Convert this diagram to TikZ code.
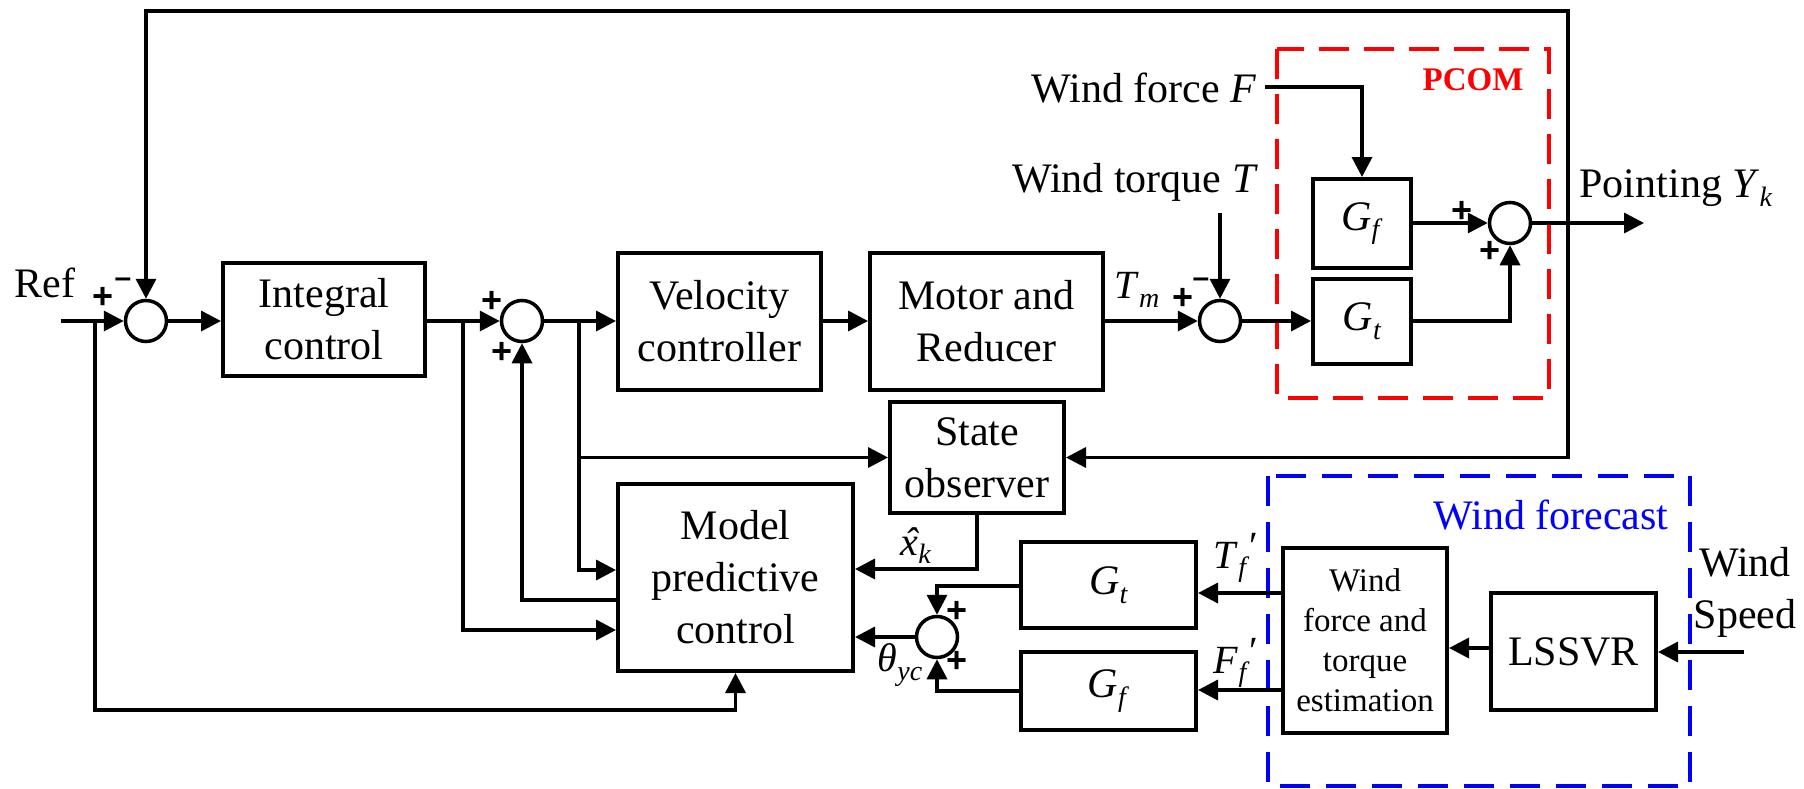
\documentclass[tikz,border=0pt]{standalone}
\usepackage{fontspec}
\setmainfont{Liberation Serif}
\newfontfamily\signfont{Liberation Sans}
\usetikzlibrary{arrows.meta}
\newcommand{\isub}[2]{\textit{#1}\raisebox{-0.45ex}{\fontsize{28}{28}\selectfont\textit{#2}}}
\newcommand{\xhat}{\ooalign{\textit{x}\cr\hidewidth\hspace{0.12em}\textit{ˆ}\hidewidth\cr}}
\tikzset{
  blk/.style={draw, line width=4pt, align=center, inner sep=0pt, font=\fontsize{42}{52}\selectfont},
  sumc/.style={draw, circle, line width=3.5pt, minimum size=41pt, inner sep=0pt},
  conn/.style={line width=3.5pt, -{Triangle[length=20pt,width=20pt]}},
  ln/.style={line width=3.5pt},
  lbl/.style={inner sep=0pt, align=center, font=\fontsize{42}{52}\selectfont},
  sgn/.style={inner sep=0pt, font=\signfont\bfseries\fontsize{36}{36}\selectfont},
  msgn/.style={inner sep=0pt, font=\signfont\bfseries\fontsize{30}{30}\selectfont},
  redbox/.style={draw=red, line width=4pt, dash pattern=on 30pt off 15pt},
  bluebox/.style={draw=blue, line width=4pt, dash pattern=on 30pt off 16pt},
}
\begin{document}
\begin{tikzpicture}[x=1pt,y=-1pt]
\useasboundingbox (0,0) rectangle (1804,789);
% dashed groups
\draw[redbox] (1277,49) rectangle (1549,398);
\draw[bluebox] (1268,476) rectangle (1690,786);
\node[inner sep=0pt, text=red, font=\bfseries\fontsize{33}{33}\selectfont] (pcom) at (1473,80) {PCOM};
\node[lbl, text=blue] (wfc) at (1551,515) {Wind forecast};

% blocks
\node[blk, minimum width=202pt, minimum height=113pt] (ic) at (324,319) {Integral\\control};
\node[blk, minimum width=203pt, minimum height=137pt] (vc) at (719.5,321) {Velocity\\controller};
\node[blk, minimum width=233pt, minimum height=137pt] (mr) at (986.5,321) {Motor and\\Reducer};
\node[blk, minimum width=174pt, minimum height=111pt] (so) at (977,457.5) {State\\observer};
\node[blk, minimum width=235pt, minimum height=187pt] (mpc) at (735.5,577.5) {Model\\predictive\\control};
\node[blk, minimum width=98pt, minimum height=89pt] (gf) at (1362,223.5) {\isub{G}{f}};
\node[blk, minimum width=98pt, minimum height=85pt] (gt) at (1362,321) {\isub{G}{t}};
\node[blk, minimum width=175pt, minimum height=86pt] (gt2) at (1108.5,585) {\isub{G}{t}};
\node[blk, minimum width=175pt, minimum height=78pt] (gf2) at (1108.5,691) {\isub{G}{f}};
\node[blk, minimum width=164pt, minimum height=185pt, font=\fontsize{33}{40}\selectfont] (est) at (1365,640.5) {Wind\\force and\\torque\\estimation};
\node[blk, minimum width=165pt, minimum height=117pt] (ls) at (1573.5,651.5) {LSSVR};

% summing junctions
\node[sumc] (s1) at (146,321) {};
\node[sumc] (s2) at (522,321) {};
\node[sumc] (s3) at (1220,321) {};
\node[sumc] (s4) at (1510,223) {};
\node[sumc] (s5) at (937,637) {};

% signs
\node[sgn] (p1) at (103,298) {+};
\node[msgn] (m1) at (123,283) {–};
\node[sgn] (p2) at (492,302) {+};
\node[sgn] (p3) at (502,353) {+};
\node[sgn] (p4) at (1183,299) {+};
\node[msgn] (m2) at (1201,283) {–};
\node[sgn] (p5) at (1462,212) {+};
\node[sgn] (p6) at (1490,252) {+};
\node[sgn] (p7) at (957,612) {+};
\node[sgn] (p8) at (957,662) {+};

% labels
\node[lbl] (ref) at (45,283) {Ref};
\node[lbl] (wfl) at (1144,88) {Wind force \textit{F}};
\node[lbl] (wtl) at (1135,182) {Wind torque \textit{T}};
\node[lbl] (pyl) at (1676,188) {Pointing \isub{Y}{k}};
\node[lbl] (wsl) at (1745,592) {Wind\\Speed};
\node[lbl, font=\fontsize{40}{48}\selectfont] (tml) at (1137,290) {\isub{T}{m}};
\node[lbl, font=\fontsize{40}{48}\selectfont] (xkl) at (916,550) {\xhat\raisebox{-0.45ex}{\fontsize{28}{28}\selectfont\textit{k}}};
\node[lbl, font=\fontsize{40}{48}\selectfont] (tfl) at (1236,558) {\isub{T}{f}\raisebox{0.5ex}{′}};
\node[lbl, font=\fontsize{40}{48}\selectfont] (ffl) at (1236,663) {\isub{F}{f}\raisebox{0.5ex}{′}};
\node[lbl, font=\fontsize{40}{48}\selectfont] (thl) at (900,665) {\isub{θ}{yc}};

% coordinates
\coordinate (refin) at (61,321);
\coordinate (b1) at (95,321);
\coordinate (b2) at (463,321);
\coordinate (b3) at (579,321);
\coordinate (fb) at (1568,223);
\coordinate (tl) at (146,11);
\coordinate (yout) at (1644,223);
\coordinate (wf) at (1265,87);
\coordinate (wt) at (1220,213);
\coordinate (wsin) at (1744,652);

% connectors - main loop
\draw[conn] (refin) -- (s1.west);
\draw[conn] (s1.east) -- (s1.east -| ic.west);
\draw[conn] (ic.east |- s2.west) -- (s2.west);
\draw[conn] (s2.east) -- (s2.east -| vc.west);
\draw[conn] (vc.east) -- (mr.west);
\draw[conn] (mr.east |- s3.west) -- (s3.west);
\draw[conn] (s3.east) -- (gt.west);
\draw[conn] (gf.east |- s4.west) -- (s4.west);
\draw[conn] (gt.east) -| (s4.south);
\draw[conn] (s4.east) -- (yout);
\draw[conn] (fb) |- (tl) -- (s1.north);
\draw[conn] (fb) |- (so.east);
\draw[conn] (wf) -| (gf.north);
\draw[conn] (wt) -- (s3.north);

% MPC and observer
\draw[conn] (b3) |- (so.west);
\draw[conn] (b3) |- (mpc.west |- 0,570);
\draw[conn] (b2) |- (mpc.west |- 0,630);
\draw[conn] (mpc.west |- 0,600) -| (s2.south);
\draw[conn] (b1) |- (mpc.south |- 0,710) -- (mpc.south);
\draw[conn] (so.south) |- (mpc.east |- 0,569);
\draw[conn] (s5.west) -- (s5.west -| mpc.east);

% wind forecast chain
\draw[conn] (gt2.west |- 0,586) -| (s5.north);
\draw[conn] (gf2.west) -| (s5.south);
\draw[conn] (est.west |- 0,593) -- (gt2.east |- 0,593);
\draw[conn] (est.west |- 0,690) -- (gf2.east |- 0,690);
\draw[conn] (ls.west |- 0,648) -- (est.east |- 0,648);
\draw[conn] (wsin) -- (ls.east |- wsin);
\end{tikzpicture}
\end{document}
